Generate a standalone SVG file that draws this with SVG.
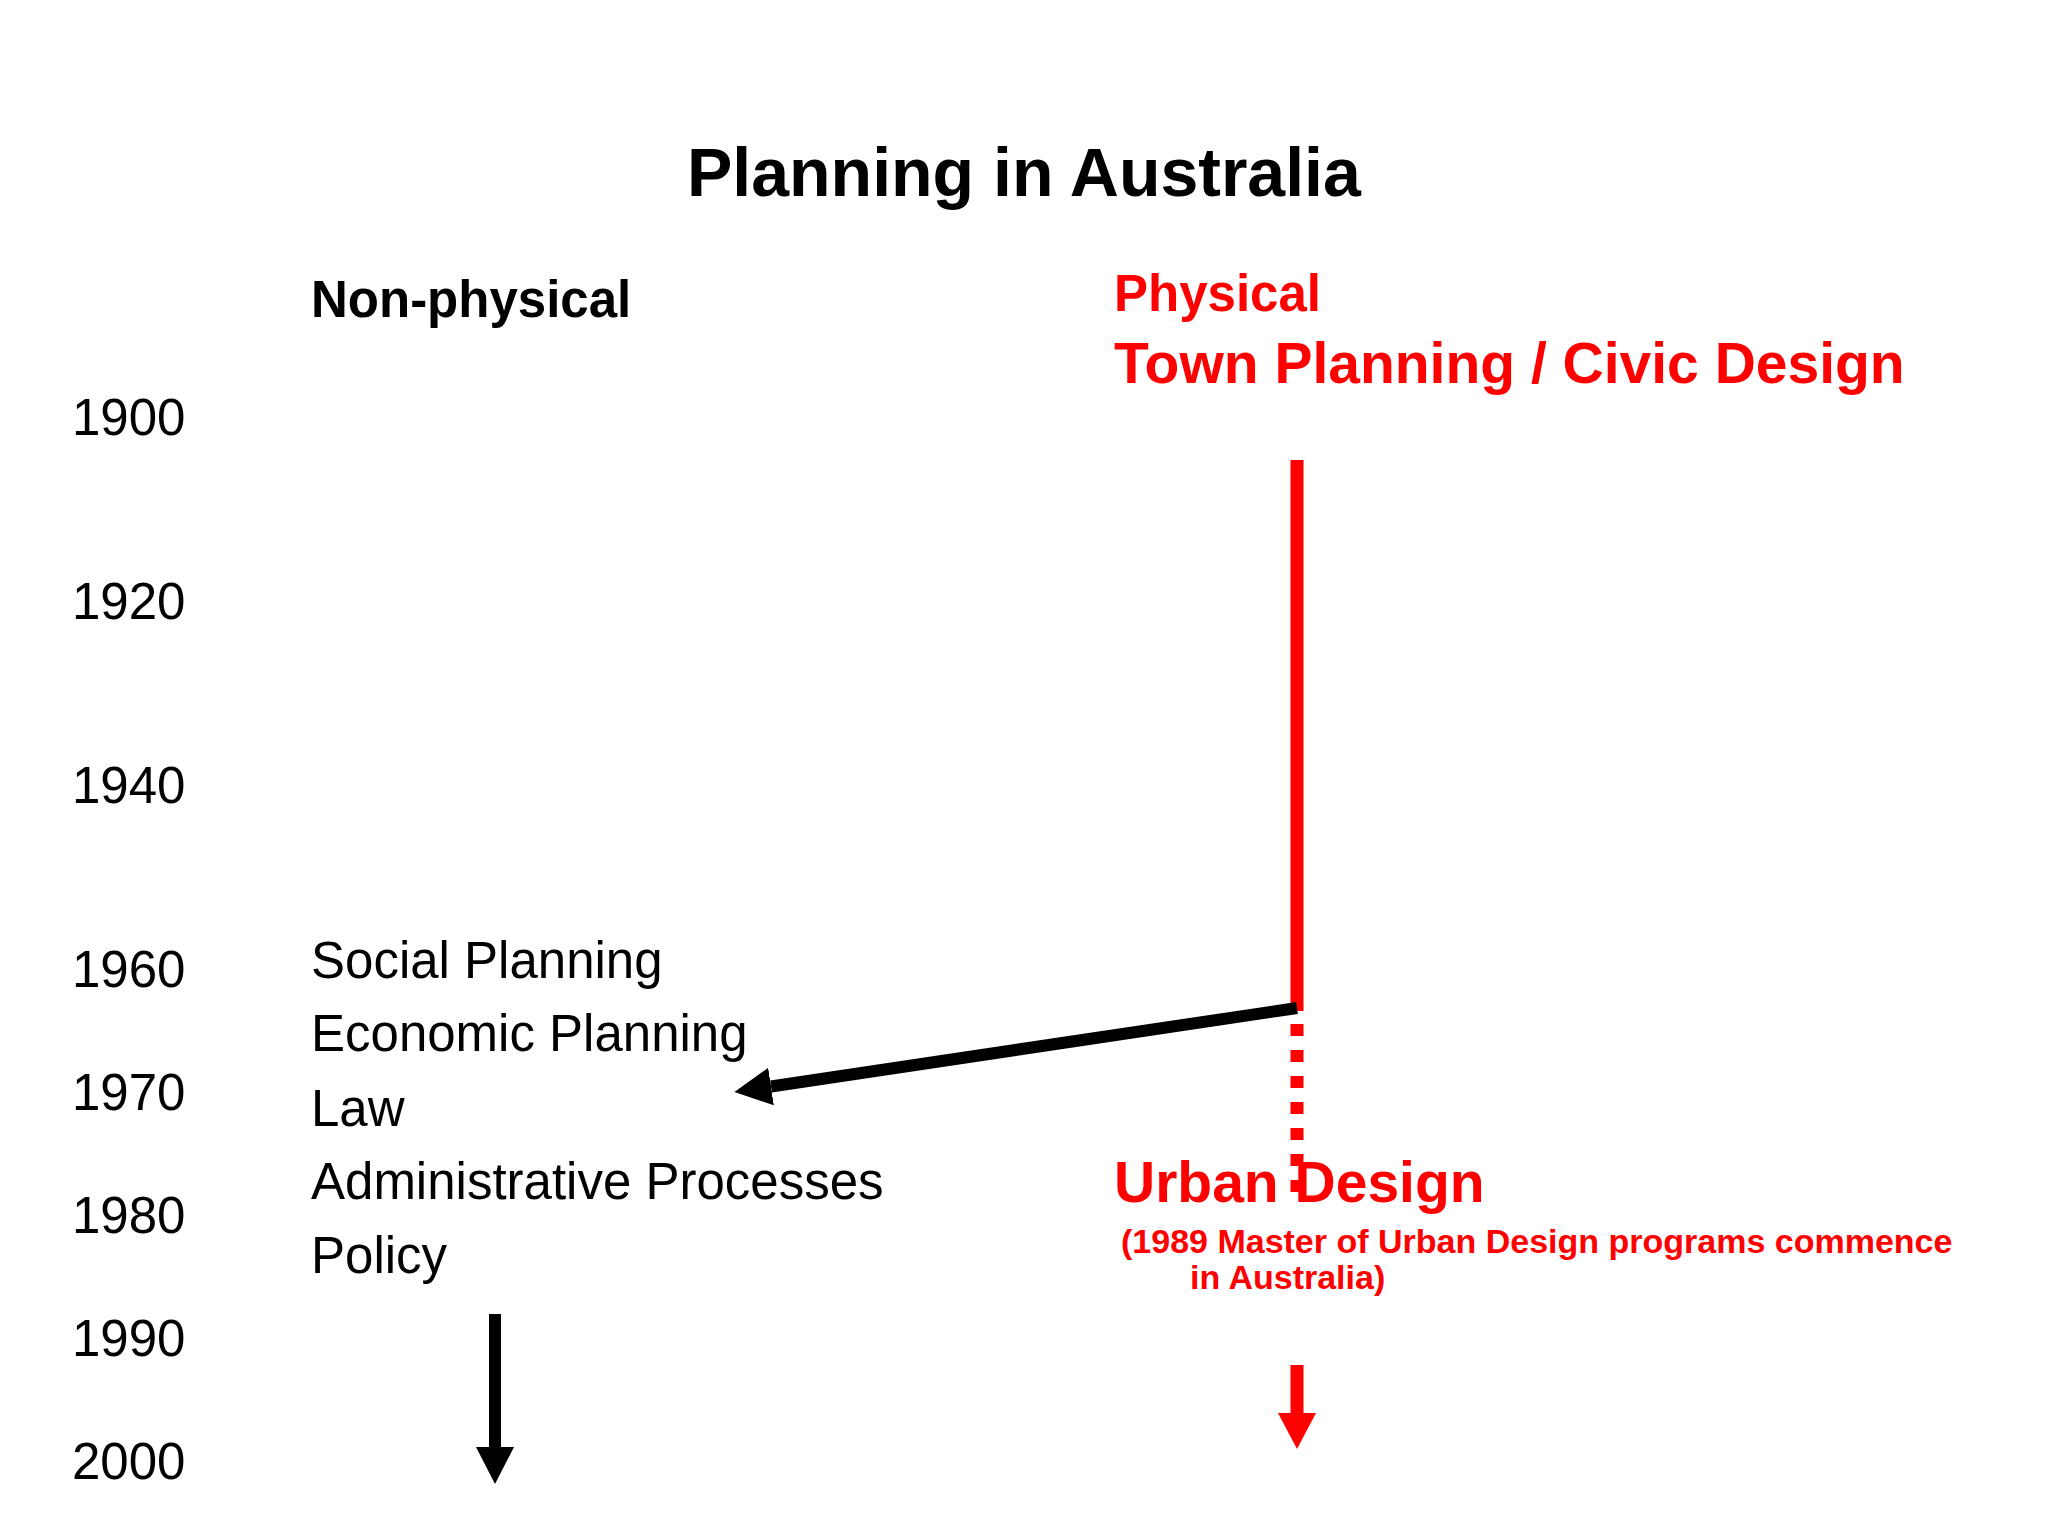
<svg xmlns="http://www.w3.org/2000/svg" width="2048" height="1536" viewBox="0 0 2048 1536">
<style>
  text { font-family: "Liberation Sans", Arial, sans-serif; }
  .title { font-size: 68px; font-weight: bold; fill: #000; }
  .head { font-size: 51px; font-weight: bold; }
  .year { font-size: 51px; fill: #000; }
  .item { font-size: 51px; fill: #000; }
  .red { fill: #ff0000; }
  .big { font-size: 57px; font-weight: bold; }
  .note { font-size: 34px; font-weight: bold; }
  .blk { stroke: #000; stroke-width: 12; fill: none; }
  .rd { stroke: #ff0000; stroke-width: 13; fill: none; }
</style>
<defs>
  <marker id="ahBlack" markerUnits="userSpaceOnUse" markerWidth="40" markerHeight="40" viewBox="0 -20 40 40" refX="0" refY="0" orient="auto">
    <path d="M0,-19 L37,0 L0,19 z" fill="#000"/>
  </marker>
  <marker id="ahRed" markerUnits="userSpaceOnUse" markerWidth="40" markerHeight="40" viewBox="0 -20 40 40" refX="0" refY="0" orient="auto">
    <path d="M0,-19 L36,0 L0,19 z" fill="#ff0000"/>
  </marker>
</defs>
<rect width="2048" height="1536" fill="#ffffff"/>

<g id="title"><text class="title" x="687" y="196">Planning in Australia</text></g>

<g id="nonphysical-header"><text class="head" x="311" y="317" fill="#000">Non-physical</text></g>

<g id="physical-header">
  <text class="head red" x="1114" y="311">Physical</text>
  <text class="big red" x="1114" y="383">Town Planning / Civic Design</text>
</g>

<g id="years">
  <text class="year" x="72" y="435">1900</text>
  <text class="year" x="72" y="619">1920</text>
  <text class="year" x="72" y="803">1940</text>
  <text class="year" x="72" y="987">1960</text>
  <text class="year" x="72" y="1110">1970</text>
  <text class="year" x="72" y="1233">1980</text>
  <text class="year" x="72" y="1356">1990</text>
  <text class="year" x="72" y="1479">2000</text>
</g>

<g id="nonphysical-list">
  <text class="item" x="311" y="978">Social Planning</text>
  <text class="item" x="311" y="1051">Economic Planning</text>
  <text class="item" x="311" y="1126">Law</text>
  <text class="item" x="311" y="1199">Administrative Processes</text>
  <text class="item" x="311" y="1273">Policy</text>
</g>

<g id="connectors">
  <line class="rd" x1="1297" y1="460" x2="1297" y2="1011"/>
  <line class="rd" x1="1297" y1="1024" x2="1297" y2="1192" stroke-dasharray="12 14"/>
  <line class="blk" x1="1297" y1="1008" x2="771" y2="1086.5" marker-end="url(#ahBlack)"/>
  <line class="blk" x1="495" y1="1314" x2="495" y2="1447" marker-end="url(#ahBlack)"/>
  <line class="rd" x1="1297" y1="1365" x2="1297" y2="1413" marker-end="url(#ahRed)"/>
</g>

<g id="urban-design">
  <text class="big red" x="1114" y="1202">Urban Design</text>
  <text class="note red" x="1121" y="1253">(1989 Master of Urban Design programs commence</text>
  <text class="note red" x="1190" y="1289">in Australia)</text>
</g>
</svg>
